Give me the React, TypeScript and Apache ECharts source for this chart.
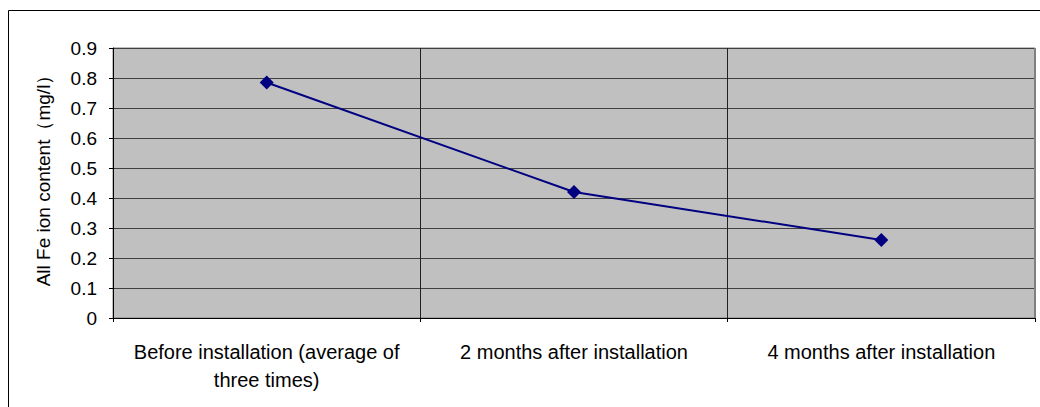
import React, { useEffect, useRef } from "react";
import * as echarts from "echarts";

const categories = [
  "Before installation (average of\nthree times)",
  "2 months after installation",
  "4 months after installation",
];
const feValues = [0.785, 0.42, 0.26];
const yMin = 0;
const yMax = 0.9;
const yStep = 0.1;
const yAxisTitle = "All Fe ion content（mg/l）";

export default function App() {
  const ref = useRef<HTMLDivElement>(null);
  useEffect(() => {
    if (!ref.current) return;
    const chart = echarts.init(ref.current, undefined, { renderer: "svg" });
    const font = "Liberation Sans, Arial, sans-serif";
    chart.setOption({
      animation: false,
      backgroundColor: "#ffffff",
      grid: {
        left: 113,
        top: 48,
        right: 5,
        bottom: 89,
        show: true,
        backgroundColor: "#c0c0c0",
        borderColor: "#808080",
        borderWidth: 1,
      },
      graphic: [
        {
          type: "rect",
          shape: { x: 8.5, y: 10.5, width: 1100, height: 500 },
          style: { fill: "none", stroke: "#000", lineWidth: 1 },
          silent: true,
          z: -10,
        },
        {
          type: "line",
          shape: { x1: 1035, y1: 48, x2: 1035, y2: 318 },
          style: { stroke: "#808080", lineWidth: 2 },
          silent: true,
          z: 10,
        },
        {
          type: "text",
          x: 43,
          y: 176,
          rotation: Math.PI / 2,
          style: {
            text: yAxisTitle,
            fontSize: 19,
            fontFamily: font,
            fill: "#000",
            align: "center",
            verticalAlign: "middle",
          },
        },
      ],
      xAxis: {
        type: "category",
        data: categories,
        boundaryGap: true,
        axisLine: { show: true, lineStyle: { color: "#000", width: 1 } },
        axisTick: { show: true, length: 4, lineStyle: { color: "#000" } },
        axisLabel: {
          color: "#000",
          fontSize: 20,
          fontFamily: font,
          margin: 20,
          lineHeight: 28,
          interval: 0,
        },
        splitLine: { show: true, interval: 0, lineStyle: { color: "#202020", width: 1 } },
      },
      yAxis: {
        type: "value",
        min: yMin,
        max: yMax,
        interval: yStep,
        axisLine: { show: true, lineStyle: { color: "#000", width: 1 } },
        axisTick: { show: true, length: 4, lineStyle: { color: "#000" } },
        axisLabel: {
          color: "#000",
          fontSize: 19,
          fontFamily: font,
          margin: 16,
          formatter: (v: number) => (v === 0 ? "0" : v.toFixed(1)),
        },
        splitLine: { show: true, lineStyle: { color: "#404040", width: 1 } },
      },
      series: [
        {
          type: "line",
          data: feValues,
          symbol: "diamond",
          symbolSize: 14,
          itemStyle: { color: "#000080" },
          lineStyle: { color: "#000080", width: 2 },
        },
      ],
    });
    return () => chart.dispose();
  }, []);
  return (
    <div
      ref={ref}
      style={{ position: "absolute", left: 0, top: 0, width: 1040, height: 407 }}
    />
  );
}
